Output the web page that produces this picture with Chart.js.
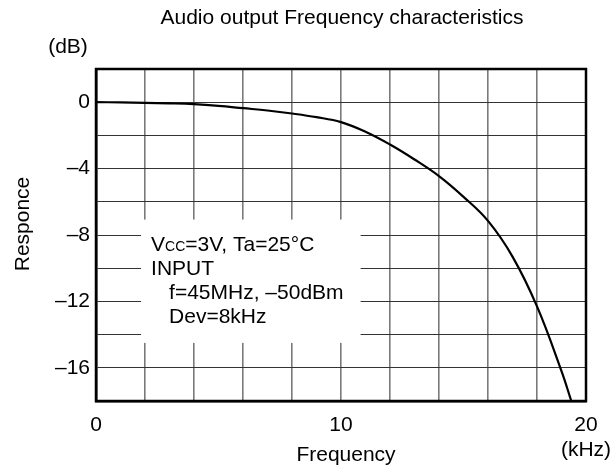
<!DOCTYPE html>
<html>
<head>
<meta charset="utf-8">
<script src="https://cdn.jsdelivr.net/npm/chart.js@4"></script>
<style>
  html, body { margin: 0; padding: 0; background: #fff; }
  #wrap { width: 610px; height: 470px; }
</style>
</head>
<body>
<div id="wrap"><canvas id="freqChart" width="610" height="470"></canvas></div>
<script>
// frequency (kHz) and response (dB)
const freq = [0, 1, 2, 3, 4, 5, 6, 7, 8, 9, 10, 11, 12, 13, 14, 15, 16, 17, 18, 19, 19.4];
const response = [0, -0.01, -0.04, -0.07, -0.12, -0.22, -0.36, -0.5, -0.68, -0.9, -1.2, -1.78, -2.55, -3.45, -4.45, -5.7, -7.15, -9.3, -12.3, -16.2, -18];
const xLabels = [0, 10, 20];
const yLabels = [0, -4, -8, -12, -16];
const noteLines = ["INPUT", "  f=45MHz, \u201350dBm", "  Dev=8kHz"];

const FONT = "'Liberation Sans', Arial, sans-serif";
const SIZE = 21;

// white box with the test conditions, frame, and the free-standing texts
const notesPlugin = {
    id: "notes",
    afterDraw(chart) {
        const ctx = chart.ctx;
        const x = chart.scales.x, y = chart.scales.y;
        const area = chart.chartArea;
        ctx.save();
        // box (in data units)
        const l = x.getPixelForValue(1.84), r = x.getPixelForValue(10.8);
        const t = y.getPixelForValue(-7.07), b = y.getPixelForValue(-14.5);
        ctx.fillStyle = "#fff";
        ctx.fillRect(l, t, r - l, b - t);

        // frame
        ctx.strokeStyle = "#000";
        ctx.lineWidth = 2.5;
        ctx.strokeRect(area.left, area.top, area.right - area.left, area.bottom - area.top);

        ctx.fillStyle = "#000";
        ctx.font = SIZE + "px " + FONT;
        ctx.textBaseline = "middle";
        ctx.textAlign = "left";
        let tx = l + 10;
        ctx.fillText("V", tx, t + 26);
        tx += ctx.measureText("V").width;
        ctx.font = "14px " + FONT;
        ctx.fillText("CC", tx, t + 28);
        tx += ctx.measureText("CC").width;
        ctx.font = SIZE + "px " + FONT;
        ctx.fillText("=3V, Ta=25\u00b0C", tx, t + 26);
        noteLines.forEach((s, i) => {
            const ind = s.startsWith("  ") ? 18 : 0;
            ctx.fillText(s.trim(), l + 10 + ind, t + 50 + i * 24);
        });

        // titles
        ctx.textAlign = "center";
        ctx.fillText("Audio output Frequency characteristics", 342, 18);
        ctx.fillText("(dB)", 68, 47);
        ctx.fillText("Frequency", 346, 455);
        ctx.fillText("(kHz)", area.right, 450);
        ctx.translate(23, 224);
        ctx.rotate(-Math.PI / 2);
        ctx.fillText("Responce", 0, 0);
        ctx.restore();
    }
};

const ctx = document.querySelector('#freqChart');
const chart = new Chart(ctx, {
    type: "line",
    data: {
        datasets: [
            {
                data: freq.map((f, i) => ({ x: f, y: response[i] })),
                borderColor: "#000",
                borderWidth: 2.2,
                pointRadius: 0,
                tension: 0.4,
                fill: false,
                clip: false,
            },
        ],
    },
    options: {
        responsive: false,
        animation: false,
        devicePixelRatio: 1,
        layout: {
            padding: { top: 69, right: 24, left: 0, bottom: 0 },
        },
        plugins: {
            legend: { display: false },
            title: { display: false },
            tooltip: { enabled: false },
        },
        scales: {
            x: {
                type: "linear",
                min: 0,
                max: 20,
                afterFit(s) { s.height = 69; },
                border: { color: "#000", width: 2.5 },
                grid: { color: "#7a7a7a", lineWidth: 1.6, drawTicks: false },
                ticks: {
                    stepSize: 2,
                    autoSkip: false,
                    maxRotation: 0,
                    padding: 12,
                    color: "#000",
                    font: { family: FONT, size: SIZE },
                    callback: (v) => xLabels.includes(v) ? String(v) : "",
                },
            },
            y: {
                min: -18,
                max: 2,
                afterFit(s) { s.width = 96; },
                border: { color: "#000", width: 2.5 },
                grid: { color: "#333", lineWidth: 1, drawTicks: false },
                ticks: {
                    stepSize: 2,
                    autoSkip: false,
                    padding: 6,
                    color: "#000",
                    font: { family: FONT, size: SIZE },
                    callback: (v) => yLabels.includes(v) ? String(v).replace("-", "\u2013") : "",
                },
            },
        },
    },
    plugins: [notesPlugin],
});
</script>
</body>
</html>
